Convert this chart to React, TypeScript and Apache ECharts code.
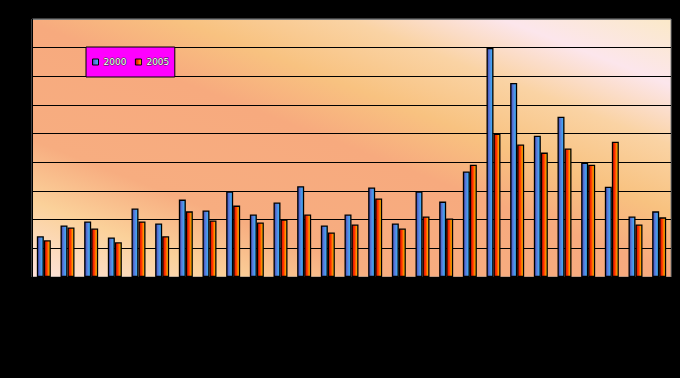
import React, { useEffect, useRef } from "react";
import * as echarts from "echarts";

const categories = [
  "1", "2", "3", "4", "5", "6", "7", "8", "9", "10", "11", "12", "13", "14",
  "15", "16", "17", "18", "19", "20", "21", "22", "23", "24", "25", "26", "27",
];
const series2000 = [
  1.42, 1.8, 1.94, 1.38, 2.39, 1.87, 2.7, 2.32, 2.98, 2.18, 2.6, 3.17, 1.8, 2.18,
  3.12, 1.87, 2.98, 2.63, 3.68, 7.99, 6.77, 4.93, 5.59, 3.99, 3.15, 2.11, 2.29,
];
const series2005 = [
  1.28, 1.73, 1.69, 1.21, 1.94, 1.42, 2.29, 1.97, 2.49, 1.9, 2.01, 2.18, 1.55, 1.83,
  2.74, 1.69, 2.11, 2.04, 3.92, 5.0, 4.62, 4.34, 4.48, 3.92, 4.72, 1.83, 2.08,
];
const seriesNames = ["2000", "2005"];
const yTicks = [0, 1, 2, 3, 4, 5, 6, 7, 8, 9];

const blueGrad = {
  type: "linear", x: 0, y: 0, x2: 1, y2: 0,
  colorStops: [
    { offset: 0, color: "#2f3fb0" },
    { offset: 0.35, color: "#5a74d4" },
    { offset: 0.7, color: "#4a9cec" },
    { offset: 1, color: "#30b8fa" },
  ],
};
const orangeGrad = {
  type: "linear", x: 0, y: 0, x2: 1, y2: 0,
  colorStops: [
    { offset: 0, color: "#c81000" },
    { offset: 0.4, color: "#ff3000" },
    { offset: 0.75, color: "#ff9000" },
    { offset: 1, color: "#ffea00" },
  ],
};
// global pixel coordinates: from the plot's bottom-left corner towards the upper right
const bgGrad = {
  type: "linear", x: 32, y: 277, x2: 203, y2: -163, global: true,
  colorStops: [
    { offset: 0, color: "#fde3dc" },
    { offset: 0.15, color: "#fbd19a" },
    { offset: 0.27, color: "#f7ad80" },
    { offset: 0.5, color: "#f7aa7e" },
    { offset: 0.62, color: "#f8c280" },
    { offset: 0.75, color: "#fad3a4" },
    { offset: 0.87, color: "#fce6ec" },
    { offset: 1, color: "#fbe9c8" },
  ],
};

export default function App() {
  const ref = useRef<HTMLDivElement>(null);
  useEffect(() => {
    document.body.style.margin = "0";
    document.body.style.background = "#000";
    const chart = echarts.init(ref.current!, null, { renderer: "svg" });
    const splitColors = yTicks.map((t) => (t === yTicks[yTicks.length - 1] ? "#808080" : "#000000"));
    chart.setOption({
      animation: false,
      backgroundColor: "#000000",
      grid: {
        left: 32, top: 19, width: 639, height: 258,
        show: true, backgroundColor: bgGrad, borderColor: "#808080", borderWidth: 1,
      },
      legend: {
        data: seriesNames,
        left: 86, top: 47,
        orient: "horizontal",
        icon: "rect",
        backgroundColor: "#ff00ff",
        borderColor: "#000",
        borderWidth: 1,
        borderRadius: 0,
        padding: [10, 5, 10, 6],
        itemGap: 8,
        itemWidth: 6,
        itemHeight: 6,
        itemStyle: { borderColor: "#000", borderWidth: 1 },
        textStyle: {
          color: "#ffffff", fontSize: 9, fontFamily: "DejaVu Sans",
          textBorderColor: "#303030", textBorderWidth: 1,
        },
      },
      xAxis: {
        type: "category",
        data: categories,
        axisLine: { show: true, lineStyle: { color: "#000" } },
        axisTick: { show: false },
        axisLabel: { show: false },
      },
      yAxis: {
        type: "value",
        min: 0, max: 9, interval: 1,
        axisLine: { show: true, lineStyle: { color: "#000" } },
        axisTick: { show: false },
        axisLabel: { show: false },
        splitLine: { show: true, lineStyle: { color: splitColors, width: 1 } },
      },
      series: [
        {
          name: seriesNames[0], type: "bar", data: series2000,
          barWidth: 7, barGap: "0%",
          itemStyle: { color: blueGrad, borderColor: "#000", borderWidth: 1.3 },
        },
        {
          name: seriesNames[1], type: "bar", data: series2005,
          barWidth: 7, barGap: "0%",
          itemStyle: { color: orangeGrad, borderColor: "#000", borderWidth: 1.3 },
        },
      ],
    });
    return () => chart.dispose();
  }, []);
  return <div ref={ref} style={{ width: 680, height: 378, background: "#000" }} />;
}
